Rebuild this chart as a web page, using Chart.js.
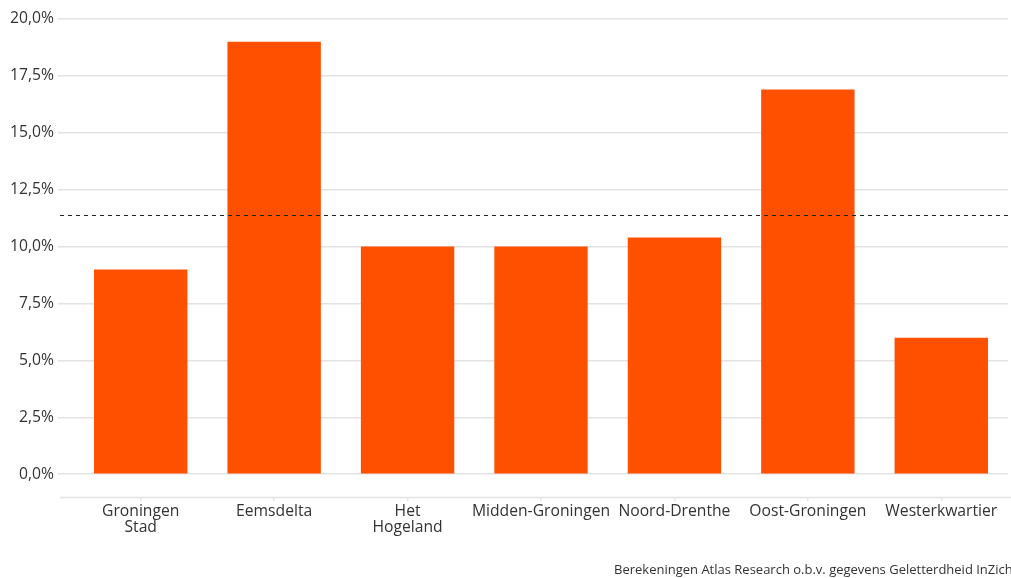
<!DOCTYPE html>
<html>
<head>
<meta charset="utf-8">
<script src="https://cdn.jsdelivr.net/npm/chart.js@4/dist/chart.umd.min.js"></script>
<style>
  html, body { margin: 0; padding: 0; background: #fff; overflow: hidden; }
  #wrap { position: relative; width: 1011px; height: 578px; overflow: hidden; }
  #bron {
    position: absolute; left: 614px; top: 560px; white-space: nowrap;
    font-family: "Open Sans", sans-serif; font-size: 13px; color: #333;
  }
</style>
</head>
<body>
<div id="wrap">
  <canvas id="grafiek" width="1011" height="578"></canvas>
  <div id="bron">Berekeningen Atlas Research o.b.v. gegevens Geletterdheid InZicht</div>
</div>
<script>
const regios = [["Groningen", "Stad"], "Eemsdelta", ["Het", "Hogeland"], "Midden-Groningen", "Noord-Drenthe", "Oost-Groningen", "Westerkwartier"];
const percentages = [9.0, 19.0, 10.0, 10.0, 10.4, 16.9, 6.0];
const gemiddelde = 11.4;
const yTicks = [0, 2.5, 5, 7.5, 10, 12.5, 15, 17.5, 20];

const fmt = v => v.toFixed(1).replace(".", ",") + "%";

// gestippelde lijn voor het gemiddelde + basislijn onder de as
const extraLijnen = {
  id: "extraLijnen",
  afterDatasetsDraw(chart) {
    const ctx = chart.ctx;
    const y = chart.scales.y;
    const w = chart.width;
    ctx.save();
    const yb = Math.round(chart.chartArea.bottom) + 0.5;
    ctx.strokeStyle = "#e3e3e3";
    ctx.lineWidth = 1.5;
    ctx.beginPath();
    ctx.moveTo(60, yb);
    ctx.lineTo(w, yb);
    ctx.stroke();

    const ya = Math.round(y.getPixelForValue(gemiddelde)) + 0.5;
    ctx.strokeStyle = "#222";
    ctx.lineWidth = 1;
    ctx.setLineDash([4, 4]);
    ctx.beginPath();
    ctx.moveTo(60, ya);
    ctx.lineTo(w, ya);
    ctx.stroke();
    ctx.restore();
  }
};

Chart.defaults.font.family = "'Open Sans', sans-serif";
Chart.defaults.font.size = 15.7;
Chart.defaults.color = "#333";

new Chart(document.getElementById("grafiek"), {
  type: "bar",
  data: {
    labels: regios,
    datasets: [{
      data: percentages,
      backgroundColor: "#FF5000",
      borderWidth: 0,
      categoryPercentage: 0.7,
      barPercentage: 1.0
    }]
  },
  options: {
    responsive: false,
    animation: false,
    layout: { padding: { top: 19, right: 3, bottom: 0, left: 0 } },
    plugins: { legend: { display: false }, tooltip: { enabled: false } },
    scales: {
      x: {
        afterFit(scale) { scale.height = 81; },
        grid: { offset: false, drawOnChartArea: false, drawTicks: true, tickLength: 4, color: "#e3e3e3", lineWidth: 1.5 },
        border: { display: false },
        ticks: { padding: 2, maxRotation: 0, autoSkip: false, font: { lineHeight: 1.05 } }
      },
      y: {
        min: -1,
        max: 20,
        afterFit(scale) { scale.width = 74; },
        afterBuildTicks(scale) { scale.ticks = yTicks.map(v => ({ value: v })); },
        grid: { color: "#e3e3e3", lineWidth: 1.5, tickLength: 16 },
        border: { display: false },
        ticks: { padding: 4, callback: v => fmt(v) }
      }
    }
  },
  plugins: [extraLijnen]
});
</script>
</body>
</html>
